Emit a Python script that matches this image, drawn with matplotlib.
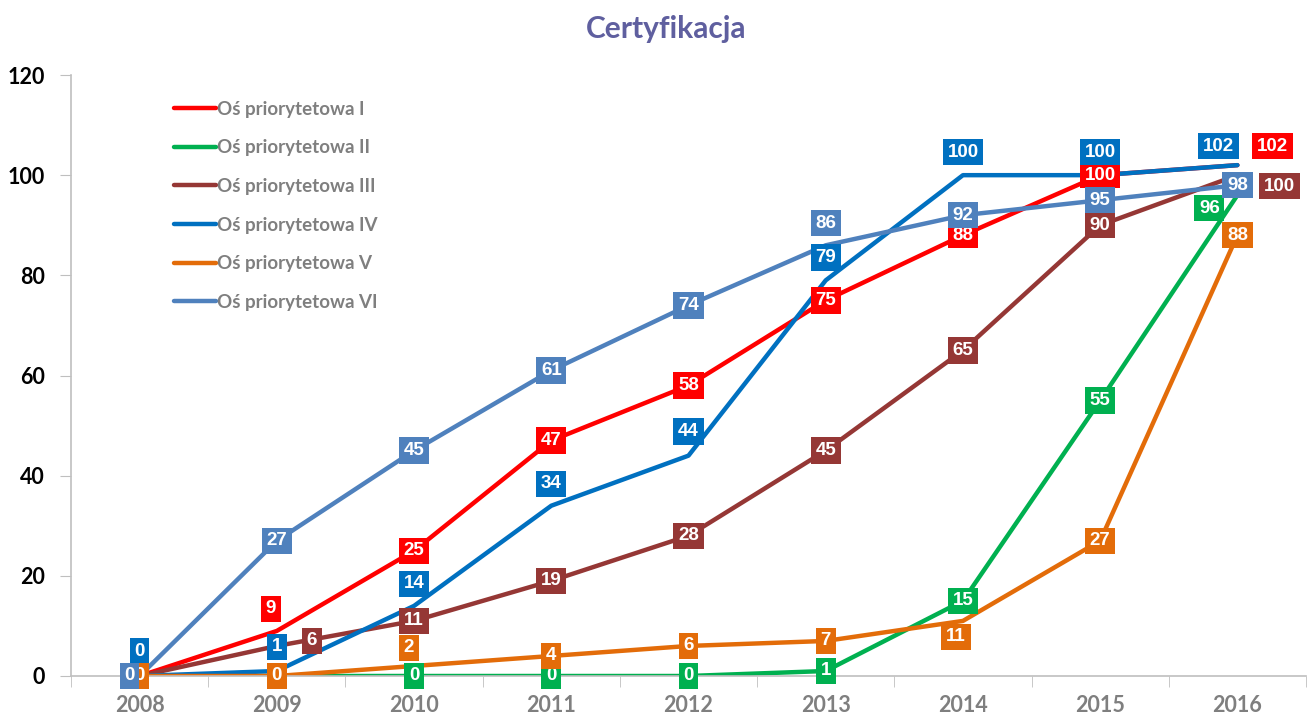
import matplotlib.pyplot as plt
import numpy as np

years = ['2008', '2009', '2010', '2011', '2012', '2013', '2014', '2015', '2016']
names = ['Oś priorytetowa I', 'Oś priorytetowa II', 'Oś priorytetowa III',
         'Oś priorytetowa IV', 'Oś priorytetowa V', 'Oś priorytetowa VI']

os_1 = [0, 9, 25, 47, 58, 75, 88, 100, 102]
os_2 = [0, 0, 0, 0, 0, 1, 15, 55, 96]
os_3 = [0, 6, 11, 19, 28, 45, 65, 90, 100]
os_4 = [0, 1, 14, 34, 44, 79, 100, 100, 102]
os_5 = [0, 0, 2, 4, 6, 7, 11, 27, 88]
os_6 = [0, 27, 45, 61, 74, 86, 92, 95, 98]
series = [os_1, os_2, os_3, os_4, os_5, os_6]

colors = ['#FF0000', '#00B050', '#953735', '#0070C0', '#E36C09', '#4F81BD']

# label offsets in pixels, None = no label shown
c = (0, 0)
offsets = [
    [None, (-6, 22), c, c, c, c, c, c, (35, 19)],
    [None, None, c, c, c, c, c, c, (-28, -13)],
    [None, (35, 5), c, c, c, c, c, c, (42, -11)],
    [(0, 25), (0, 24), (0, 22), (0, 22), (0, 24), (0, 23), (0, 23), (0, 23), (-19, 19)],
    [c, c, (-5, 18), c, c, c, (-7, -16), c, c],
    [(-10, 0), c, c, c, c, (0, 22), c, c, c],
]

fig = plt.figure(figsize=(13.07, 7.2), dpi=100)
ax = fig.add_axes([71/1307, 44/720, 1235/1307, 601/720])

x = np.arange(len(years))
for i in range(len(series)):
    ax.plot(x, series[i], color=colors[i], lw=3.2, label=names[i],
            solid_joinstyle='round', solid_capstyle='round', zorder=2)

for i in range(len(series)):
    for j in range(len(years)):
        off = offsets[i][j]
        if off is None:
            continue
        ax.annotate(str(series[i][j]), (x[j], series[i][j]), xytext=off,
                    textcoords='offset pixels', ha='center', va='center',
                    color='white', fontsize=13.5, fontweight='bold',
                    family='Liberation Sans', zorder=3 + i,
                    bbox=dict(boxstyle='square,pad=0.25', fc=colors[i], ec='none'))

ax.set_xlim(-0.5, len(years) - 0.5)
ax.set_ylim(0, 120)
ax.set_yticks(range(0, 121, 20))
ax.set_xticks(x)
ax.set_xticklabels(years)
ax.set_xticks(np.arange(-0.5, len(years)), minor=True)

for s in ['top', 'right']:
    ax.spines[s].set_visible(False)
ax.spines['left'].set_color('#BFBFBF')
ax.spines['bottom'].set_color('#BFBFBF')
ax.spines['left'].set_linewidth(1.2)
ax.spines['bottom'].set_linewidth(1.2)

ax.tick_params(axis='x', which='major', length=0, pad=14, colors='#7F7F7F',
               labelsize=15.5)
ax.tick_params(axis='x', which='minor', length=8, color='#BFBFBF')
ax.tick_params(axis='y', length=8, color='#BFBFBF', labelcolor='black',
               labelsize=15.5, pad=11)
for lab in ax.get_xticklabels() + ax.get_yticklabels():
    lab.set_fontweight('bold')
    lab.set_family('Lato')

leg = ax.legend(loc='upper left', bbox_to_anchor=(0.07, 0.985), frameon=False,
                handlelength=2.2, handletextpad=0.05, labelspacing=1.15,
                prop={'family': 'Lato', 'weight': 'bold', 'size': 13.5})
for t in leg.get_texts():
    t.set_color('#7F7F7F')

fig.text(0.51, 0.96, 'Certyfikacja', ha='center', va='center', fontsize=21.5,
         fontweight='bold', color='#5F5F9F', family='Lato')

fig.savefig('out.png', dpi=100)
